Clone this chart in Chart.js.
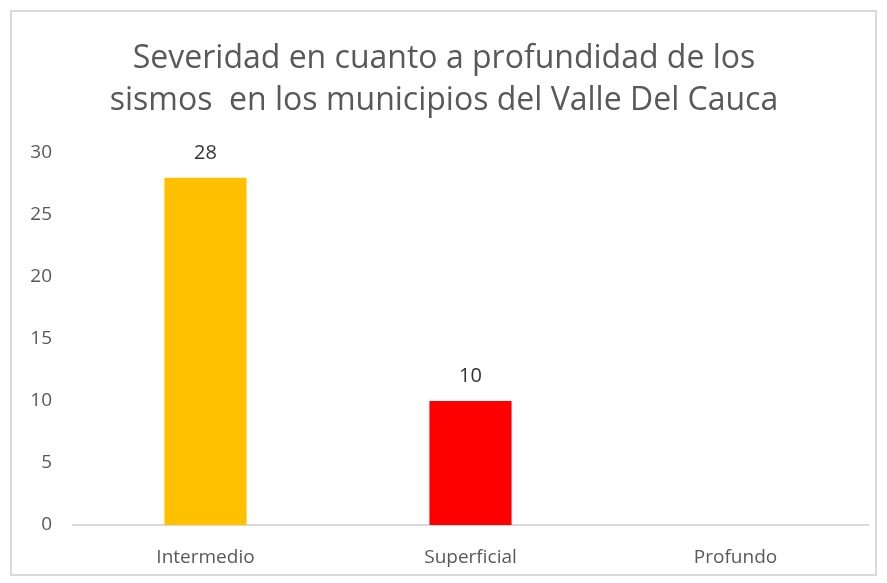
<!DOCTYPE html>
<html lang="es">
<head>
<meta charset="utf-8">
<title>Severidad de los sismos</title>
<script src="https://cdn.jsdelivr.net/npm/chart.js@4.4.1/dist/chart.umd.min.js"></script>
<style>
  html, body { margin: 0; padding: 0; background: #ffffff; }
  #grafico { display: block; }
</style>
</head>
<body>
<canvas id="grafico" width="887" height="583"></canvas>
<script>
// Datos del grafico
const categorias = ['Intermedio', 'Superficial', 'Profundo'];
const sismos = [28, 10, 0];
const colores = ['#FFC000', '#FF0000', '#A5A5A5'];
const titulo = ['Severidad en cuanto a profundidad de los', 'sismos  en los municipios del Valle Del Cauca'];
const ejeYMin = 0;
const ejeYMax = 30;
const ejeYPaso = 5;

const fuente = "'Open Sans', 'Noto Sans', sans-serif";

// Fondo blanco y marco gris alrededor del grafico
const marco = {
    id: 'marco',
    beforeDraw(chart) {
        const ctx = chart.ctx;
        ctx.save();
        ctx.fillStyle = '#ffffff';
        ctx.fillRect(0, 0, chart.width, chart.height);
        ctx.strokeStyle = '#d9d9d9';
        ctx.lineWidth = 2;
        ctx.strokeRect(11, 11, chart.width - 22, chart.height - 19);
        ctx.restore();
    }
};

// Etiquetas con el valor encima de cada barra
const etiquetasValor = {
    id: 'etiquetasValor',
    afterDatasetsDraw(chart) {
        const ctx = chart.ctx;
        const meta = chart.getDatasetMeta(0);
        const datos = chart.data.datasets[0].data;
        ctx.save();
        ctx.font = '20px ' + fuente;
        ctx.fillStyle = '#333333';
        ctx.textAlign = 'center';
        ctx.textBaseline = 'middle';
        meta.data.forEach(function (barra, i) {
            if (!datos[i]) return;
            ctx.fillText(String(datos[i]), barra.x, barra.y - 25);
        });
        ctx.restore();
    }
};

const ctx = document.getElementById('grafico').getContext('2d');
const grafico = new Chart(ctx, {
    type: 'bar',
    data: {
        labels: categorias,
        datasets: [{
            label: 'Sismos',
            data: sismos,
            backgroundColor: colores,
            borderWidth: 0,
            barPercentage: 0.62,
            categoryPercentage: 0.5
        }]
    },
    options: {
        responsive: false,
        animation: false,
        layout: {
            padding: { left: 20, right: 19, top: 10, bottom: 12 }
        },
        plugins: {
            legend: { display: false },
            tooltip: { enabled: false },
            title: {
                display: true,
                text: titulo,
                color: '#595959',
                font: { family: fuente, size: 32, weight: 'normal', lineHeight: '42px' },
                padding: { top: 28, bottom: 31 }
            }
        },
        scales: {
            x: {
                grid: { display: false },
                border: { display: true, color: '#d9d9d9', width: 2 },
                ticks: {
                    color: '#595959',
                    font: { family: fuente, size: 19 },
                    padding: 13
                },
                afterFit(scale) { scale.height = 46; }
            },
            y: {
                min: ejeYMin,
                max: ejeYMax,
                grid: { display: false, drawTicks: false },
                border: { display: false },
                ticks: {
                    stepSize: ejeYPaso,
                    color: '#595959',
                    font: { family: fuente, size: 19 },
                    padding: 21
                },
                afterFit(scale) { scale.width = 53; }
            }
        }
    },
    plugins: [marco, etiquetasValor]
});
</script>
</body>
</html>
